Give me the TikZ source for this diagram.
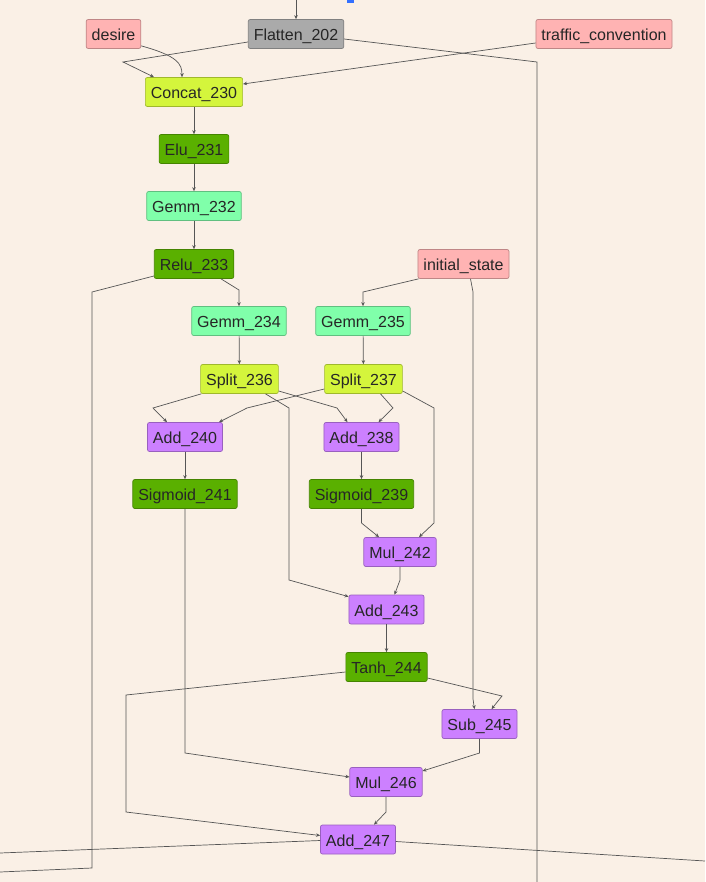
\documentclass[tikz,border=0pt]{standalone}
\usepackage{fontspec}
\setmainfont{Liberation Sans}
\usetikzlibrary{arrows.meta,calc}

\definecolor{bgcol}{HTML}{FAF0E6}
\definecolor{inputcol}{HTML}{FFB3B3}
\definecolor{flatcol}{HTML}{AAAAAA}
\definecolor{splitcol}{HTML}{D4F53C}
\definecolor{actcol}{HTML}{5AB000}
\definecolor{gemmcol}{HTML}{80FFAA}
\definecolor{mathcol}{HTML}{CC80FF}
\definecolor{edgecol}{HTML}{555555}

\tikzset{
  op/.style={draw=#1!75!black, fill=#1, line width=0.7pt, rounded corners=2pt,
    minimum height=29pt, inner xsep=5.5pt, inner ysep=0pt,
    text height=13pt, text depth=0pt,
    font=\fontsize{16}{18}\selectfont, text=black!85},
  inbox/.style={op=inputcol},
  flatbox/.style={op=flatcol},
  splitbox/.style={op=splitcol},
  actbox/.style={op=actcol},
  gemmbox/.style={op=gemmcol},
  mathbox/.style={op=mathcol},
  edge/.style={draw=edgecol, line width=0.7pt},
  >={Stealth[length=4pt,width=3.5pt]}
}

\begin{document}
\begin{tikzpicture}[x=1pt, y=-1pt]
  % frame
  \fill[bgcol] (0,0) rectangle (705,882);
  \useasboundingbox (0,0) rectangle (705,882);
  \fill[blue!70!cyan!80] (347,0) rectangle (354,3);

  % inputs
  \node[inbox] (desire) at (113.5,34) {desire};
  \node[flatbox] (flatten) at (296,34) {Flatten\_202};
  \node[inbox] (traffic) at (604,34) {traffic\_convention};
  \node[inbox] (init) at (463.5,264) {initial\_state};

  % main chain
  \node[splitbox] (concat) at (194,92) {Concat\_230};
  \node[actbox] (elu) at (194,149) {Elu\_231};
  \node[gemmbox] (gemma) at (194,206) {Gemm\_232};
  \node[actbox] (relu) at (194,264) {Relu\_233};
  \node[gemmbox] (gemmb) at (239,321) {Gemm\_234};
  \node[gemmbox] (gemmc) at (363,321) {Gemm\_235};
  \node[splitbox] (splita) at (239.5,379) {Split\_236};
  \node[splitbox] (splitb) at (363.5,379) {Split\_237};

  % gates
  \node[mathbox] (adda) at (185,437) {Add\_240};
  \node[mathbox] (addb) at (361.5,437) {Add\_238};
  \node[actbox] (siga) at (185,494) {Sigmoid\_241};
  \node[actbox] (sigb) at (361.5,494) {Sigmoid\_239};
  \node[mathbox] (mula) at (400,552) {Mul\_242};
  \node[mathbox] (addc) at (386.5,609.5) {Add\_243};
  \node[actbox] (tanh) at (386.5,667) {Tanh\_244};
  \node[mathbox] (sub) at (479.5,724) {Sub\_245};
  \node[mathbox] (mulb) at (386,782) {Mul\_246};
  \node[mathbox] (addd) at (358,839.5) {Add\_247};

  % free ends
  \coordinate (topin) at (296,0);
  \coordinate (flatout) at (537,882);
  \coordinate (reluout) at (0,872);
  \coordinate (leftout) at (0,853);
  \coordinate (rightout) at (705,861);

  % connectors
  \draw[edge,->] (topin) -- (flatten);
  \draw[edge,->] ([yshift=3]desire.south east) .. controls (178,56) and (182,64) .. ([xshift=-12]concat.north);
  \draw[edge,->] ([yshift=-8]flatten.west) -- (123,62) -- ([xshift=-40]concat.north);
  \draw[edge,->] ([yshift=-9]traffic.west) -- ([yshift=8]concat.east);
  \draw[edge] ([yshift=-5]flatten.east) -- (537,62) -- (flatout);
  \draw[edge,->] (concat) -- (elu);
  \draw[edge,->] (elu) -- (gemma);
  \draw[edge,->] (gemma) -- (relu);
  \draw[edge] ([yshift=-12]relu.west) -- (92,292) -- (92,868) -- (reluout);
  \draw[edge,->] ([xshift=27]relu.south) -- (239,290) -- (gemmb.north);
  \draw[edge,->] ([xshift=1]init.south west) -- (363,292) -- (gemmc.north);
  \draw[edge,->] ([xshift=7]init.south) -- (473,292) -- (473,699) -- ([xshift=-5]sub.north);
  \draw[edge,->] (gemmb) -- (splita);
  \draw[edge,->] (gemmc) -- (splitb);
  \draw[edge,->] ([xshift=1]splita.south west) -- (153,408) -- ([xshift=-18]adda.north);
  \draw[edge,->] ([yshift=-10]splitb.west) -- (247,408) -- ([xshift=34]adda.north);
  \draw[edge,->] ([yshift=-12]splita.east) -- (337,408) -- ([xshift=-14]addb.north);
  \draw[edge,->] ([xshift=17]splitb.south) -- (393,408) -- ([xshift=17]addb.north);
  \draw[edge,->] ([yshift=-12]splitb.east) -- (434,408) -- (434,523) -- ([xshift=19]mula.north);
  \draw[edge,->] ([xshift=26]splita.south) -- (289,408) -- (289,580) -- ([yshift=-2]addc.north west);
  \draw[edge,->] (adda) -- (siga);
  \draw[edge,->] (addb) -- (sigb);
  \draw[edge,->] (sigb.south) -- (361.5,523) -- ([xshift=-21]mula.north);
  \draw[edge,->] (mula.south) -- (400,580) -- ([xshift=8]addc.north);
  \draw[edge,->] (siga.south) -- (185,753) -- ([yshift=5]mulb.west);
  \draw[edge,->] (addc) -- (tanh);
  \draw[edge,->] ([yshift=-11]tanh.east) -- (502,696) -- ([xshift=12]sub.north);
  \draw[edge,->] ([yshift=-5]tanh.west) -- (126,695) -- (126,812) -- ([yshift=4]addd.west);
  \draw[edge,->] (sub.south) -- (479.5,753) -- ([yshift=11]mulb.east);
  \draw[edge,->] (mulb.south) -- (386,812) -- ([xshift=16]addd.north);
  \draw[edge] ([yshift=-1]addd.west) -- (leftout);
  \draw[edge] ([yshift=-2]addd.east) -- (rightout);
\end{tikzpicture}
\end{document}
